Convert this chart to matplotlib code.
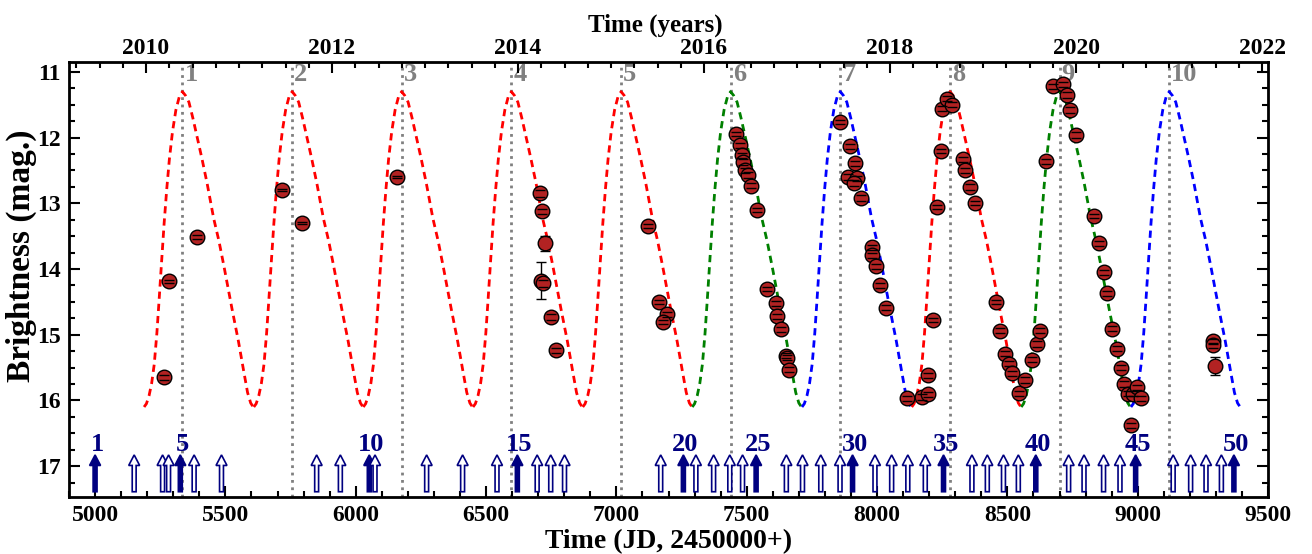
import matplotlib
matplotlib.use('Agg')
import matplotlib.pyplot as plt
from matplotlib.ticker import MultipleLocator

plt.rcParams['font.family'] = ['Liberation Serif', 'DejaVu Serif']
plt.rcParams['font.weight'] = 'bold'
plt.rcParams['axes.labelweight'] = 'bold'

# observed brightness (JD - 2450000, mag, error)
jd = [5266, 5285, 5390, 5716, 5795, 6157,
      6707, 6713, 6726, 6710, 6718, 6749, 6767,
      7122, 7164, 7193, 7180,
      7458, 7474, 7480, 7486, 7493, 7506, 7516, 7538, 7576, 7612, 7618, 7630, 7650, 7655, 7662,
      7857, 7898, 7915, 7889, 7924, 7911, 7940, 7979, 7981, 7995, 8013, 8033, 8113,
      8171, 8196, 8196, 8215, 8231, 8246, 8251, 8267, 8286, 8330, 8337, 8356, 8375,
      8458, 8471, 8490, 8507, 8518, 8545,
      8567, 8595, 8614, 8625, 8650, 8676, 8714, 8729, 8740, 8763, 8832, 8852, 8870, 8883,
      8903, 8921, 8934, 8947, 8963, 8974, 8982, 8998, 9011,
      9289, 9290, 9298]
mag = [15.65, 14.19, 13.51, 12.80, 13.30, 12.60,
       12.85, 13.12, 13.61, 14.18, 14.22, 14.73, 15.24,
       13.35, 14.50, 14.69, 14.81,
       11.94, 12.12, 12.27, 12.37, 12.50, 12.57, 12.73, 13.10, 14.30, 14.52, 14.72, 14.92, 15.32, 15.35, 15.53,
       11.76, 12.13, 12.39, 12.60, 12.62, 12.69, 12.92, 13.67, 13.79, 13.96, 14.25, 14.59, 15.97,
       15.95, 15.91, 15.62, 14.77, 13.06, 12.20, 11.56, 11.41, 11.50, 12.33, 12.50, 12.75, 13.00,
       14.50, 14.94, 15.29, 15.44, 15.59, 15.89,
       15.69, 15.38, 15.14, 14.94, 12.36, 11.22, 11.19, 11.35, 11.58, 11.96, 13.20, 13.61, 14.05, 14.37,
       14.91, 15.21, 15.50, 15.75, 15.90, 16.38, 15.90, 15.80, 15.97,
       15.10, 15.16, 15.48]
err = [0.04, 0.03, 0.03, 0.02, 0.02, 0.02,
       0.05, 0.04, 0.11, 0.28, 0.05, 0.04, 0.04,
       0.03, 0.03, 0.04, 0.03,
       0.03, 0.04, 0.04, 0.04, 0.04, 0.04, 0.04, 0.03, 0.03, 0.04, 0.04, 0.04, 0.04, 0.04, 0.04,
       0.03, 0.04, 0.04, 0.04, 0.04, 0.04, 0.04, 0.04, 0.04, 0.04, 0.04, 0.04, 0.04,
       0.04, 0.04, 0.04, 0.03, 0.03, 0.03, 0.04, 0.04, 0.04, 0.04, 0.04, 0.04, 0.03,
       0.03, 0.04, 0.04, 0.04, 0.04, 0.04,
       0.04, 0.04, 0.04, 0.04, 0.04, 0.04, 0.04, 0.04, 0.04, 0.04, 0.03, 0.04, 0.04, 0.04,
       0.04, 0.04, 0.04, 0.04, 0.04, 0.04, 0.04, 0.04, 0.04,
       0.04, 0.04, 0.14]

# predicted maxima (dotted lines) and colour of each model cycle
epoch = [5335, 5756, 6176, 6597, 7018, 7438, 7859, 8280, 8700, 9121]
cyc_col = ['red', 'red', 'red', 'red', 'red', 'green', 'blue', 'red', 'green', 'blue']

# model light-curve shape: days from maximum -> mag
tmpl_dt = [-147, -138, -128, -118, -108, -98, -89, -80, -70, -60, -50, -38, -25, -12,
           0, 12, 25, 40, 57, 75, 95, 120, 140, 160, 190, 215, 235, 250, 262, 272]
tmpl_mag = [16.10, 16.05, 15.93, 15.74, 15.45, 14.98, 14.45, 13.90, 13.30, 12.78, 12.33, 11.91, 11.58, 11.38,
            11.30, 11.36, 11.46, 11.70, 12.00, 12.32, 12.70, 13.23, 13.57, 13.97, 14.60, 15.10, 15.55, 15.88, 16.04, 16.10]

# observation-run arrows at the bottom (1..50)
arrow_jd = [5000, 5150, 5259, 5282, 5327, 5380, 5485, 5850, 5941, 6052,
            6074, 6272, 6410, 6542, 6620, 6696, 6748, 6801, 7170, 7257,
            7305, 7373, 7435, 7484, 7536, 7652, 7714, 7784, 7858, 7906,
            7992, 8056, 8118, 8185, 8255, 8364, 8423, 8485, 8542, 8609,
            8735, 8794, 8869, 8932, 8992, 9136, 9203, 9262, 9321, 9369]
arrow_lab = [1, 5, 10, 15, 20, 25, 30, 35, 40, 45, 50]

year_ticks = [2010, 2012, 2014, 2016, 2018, 2020, 2022]

fig = plt.figure(figsize=(13.12, 5.54), dpi=100)
ax = fig.add_axes([0.0526, 0.1029, 0.9139, 0.7851])

for i, e in enumerate(epoch):
    ax.axvline(e, color='gray', ls=':', lw=2, zorder=1)
    ax.text(e + 8, 11.04, str(i + 1), color='gray', fontsize=19, ha='left', va='center')
    ax.plot([e + d for d in tmpl_dt], tmpl_mag, color=cyc_col[i], lw=2, ls=(0, (2.6, 1.8)), zorder=2)

ax.plot(jd, mag, 'o', ms=10.5, mfc='#b22222', mec='black', mew=1.0, zorder=4)
eb = ax.errorbar(jd, mag, yerr=err, fmt='none', ecolor='black', elinewidth=1.0, capsize=3.5, capthick=1.0, zorder=3)
for cl in eb[1]:
    cl.set_zorder(5)

for k, x in enumerate(arrow_jd):
    n = k + 1
    filled = n in arrow_lab
    ax.arrow(x, 17.39, 0, -0.56, width=15, head_width=42, head_length=0.16,
             length_includes_head=True, fc='navy' if filled else 'white', ec='navy', lw=1.2, zorder=4)
    if filled:
        ax.text(x + 8, 16.67, str(n), color='navy', fontsize=19, ha='center', va='center')

ax.set_xlim(4900, 9500)
ax.set_ylim(17.47, 10.85)
ax.xaxis.set_major_locator(MultipleLocator(500))
ax.xaxis.set_minor_locator(MultipleLocator(100))
ax.yaxis.set_major_locator(MultipleLocator(1))
ax.yaxis.set_minor_locator(MultipleLocator(0.25))
ax.tick_params(which='both', direction='in', right=True, top=False, labelsize=17, width=1.5)
ax.tick_params(which='major', length=8, pad=6)
ax.tick_params(which='minor', length=4)
for s in ax.spines.values():
    s.set_linewidth(2)
ax.set_xlabel('Time (JD, 2450000+)', fontsize=20, labelpad=2)
ax.set_ylabel('Brightness (mag.)', fontsize=24)
ax.yaxis.set_label_coords(-0.027, 0.555)

ax2 = ax.twiny()
ax2.set_xlim(2009.172, 2022.065)
ax2.set_xticks(year_ticks)
ax2.xaxis.set_minor_locator(MultipleLocator(0.25))
ax2.tick_params(which='both', direction='in', labelsize=17, width=1.5)
ax2.tick_params(which='major', length=8, pad=2)
ax2.tick_params(which='minor', length=4)
ax2.set_xlabel('Time (years)', fontsize=18)
ax2.xaxis.set_label_coords(0.489, 1.07)

fig.savefig('out.png', dpi=100)
